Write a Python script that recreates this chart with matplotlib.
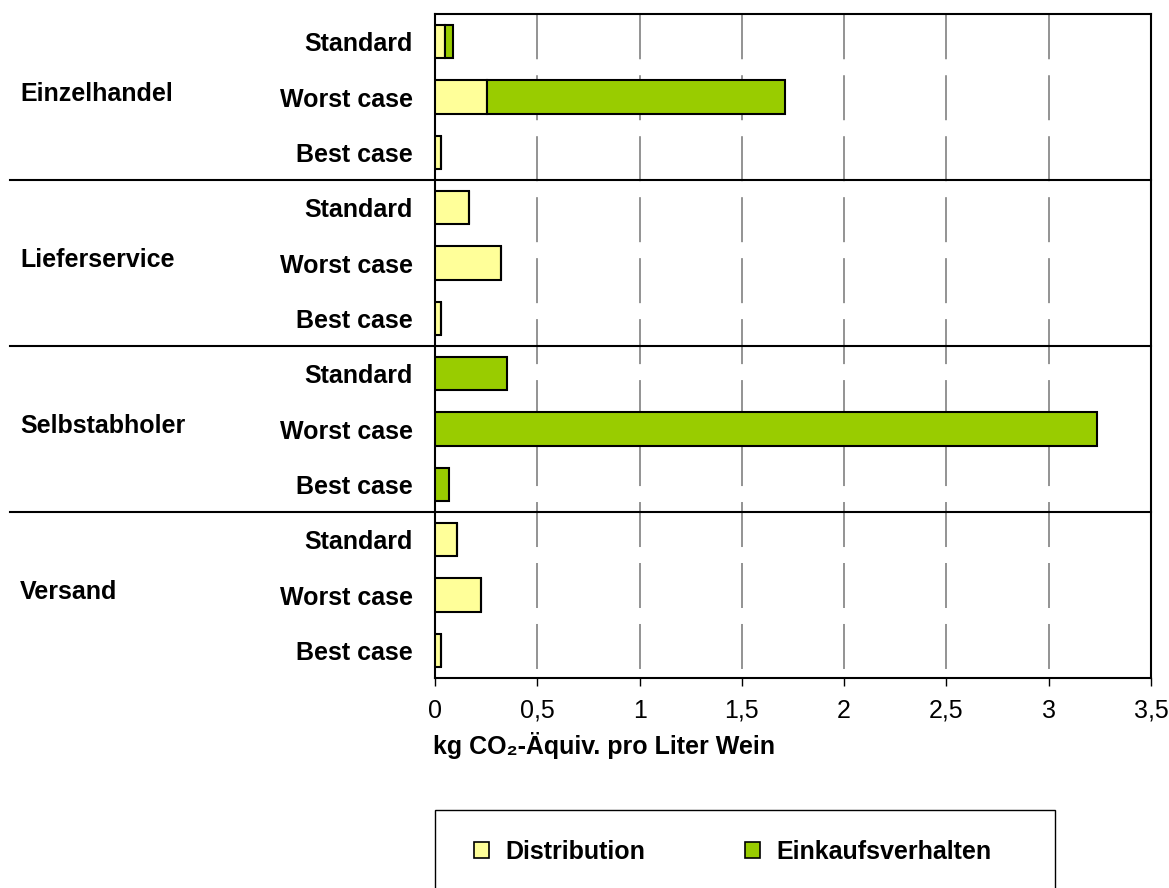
import matplotlib.pyplot as plt
import numpy as np
from matplotlib.patches import Patch, Rectangle
from matplotlib.transforms import blended_transform_factory

plt.rcParams['font.family'] = ['Liberation Sans', 'DejaVu Sans']
plt.rcParams['lines.scale_dashes'] = False

# data
groups = ['Einzelhandel', 'Lieferservice', 'Selbstabholer', 'Versand']
cases = ['Standard', 'Worst case', 'Best case']
distribution = [0.049, 0.254, 0.03,
                0.166, 0.323, 0.03,
                0.0, 0.0, 0.0,
                0.108, 0.225, 0.03]
einkauf = [0.039, 1.456, 0.0,
           0.0, 0.0, 0.0,
           0.352, 3.235, 0.068,
           0.0, 0.0, 0.0]
xticks = [0, 0.5, 1, 1.5, 2, 2.5, 3, 3.5]
xticklabels = ['0', '0,5', '1', '1,5', '2', '2,5', '3', '3,5']
series_names = ['Distribution', 'Einkaufsverhalten']

c_yellow = '#FFFF99'
c_green = '#99CC00'
fs = 18

fig = plt.figure(figsize=(11.69, 8.88), dpi=100)
W, H = 1169, 888
ax = fig.add_axes([435 / W, 1 - 678 / H, (1151 - 435) / W, (678 - 14) / H])

n = len(groups) * len(cases)
y = np.arange(n)
dist = np.array(distribution)
eink = np.array(einkauf)

ax.barh(y, dist, height=0.6, color=c_yellow, edgecolor='black', lw=1.5, zorder=3)
ax.barh(y, eink, left=dist, height=0.6, color=c_green, edgecolor='black', lw=1.5, zorder=3)

ax.set_ylim(n - 0.5, -0.5)
ax.set_xlim(0, 3.5)

ax.set_yticks(y)
ax.set_yticklabels(cases * len(groups), fontsize=fs, fontweight='bold')
ax.tick_params(axis='y', length=0, pad=16)

ax.set_xticks(xticks)
ax.set_xticklabels(xticklabels, fontsize=fs)
ax.tick_params(axis='x', direction='out', length=6, width=1, pad=9)

# dashes in points: ~45 px on, 16 px off
ax.xaxis.grid(True, color='#808080', lw=1.2, linestyle=(37.4, (32.4, 11.5)), zorder=0)
ax.set_axisbelow(True)

for s in ax.spines.values():
    s.set_linewidth(1.5)

# group separators and group labels
trans = blended_transform_factory(ax.transAxes, ax.transData)
x_left = (10 - 435) / (1151 - 435)
for k in range(1, len(groups)):
    ax.plot([x_left, 1], [k * 3 - 0.5, k * 3 - 0.5], color='black', lw=1.5,
            transform=trans, clip_on=False, zorder=4)
x_grp = (20 - 435) / (1151 - 435)
for k, g in enumerate(groups):
    ax.text(x_grp, k * 3 + 1 - 0.05, g, transform=trans, ha='left', va='center',
            fontsize=fs, fontweight='bold')

fig.text(433 / W, 1 - 745 / H, 'kg CO₂-Äquiv. pro Liter Wein', ha='left', va='center',
         fontsize=fs, fontweight='bold')

# legend box (runs off the bottom edge like the original)
fig.add_artist(Rectangle((435 / W, -0.05), (1055 - 435) / W, 1 - 810 / H + 0.05,
                         transform=fig.transFigure, fill=False, ec='black', lw=1.0))
handles = [Patch(facecolor=c_yellow, edgecolor='black', lw=1.2),
           Patch(facecolor=c_green, edgecolor='black', lw=1.2)]
leg = fig.legend(handles, series_names, loc='center left', ncol=2,
                 bbox_to_anchor=(474 / W, 1 - 852 / H),
                 borderaxespad=0, borderpad=0, handlelength=0.6, handleheight=0.6,
                 handletextpad=0.65, columnspacing=4.0, frameon=False,
                 prop={'size': fs, 'weight': 'bold'})

fig.savefig('out.png', dpi=100)
